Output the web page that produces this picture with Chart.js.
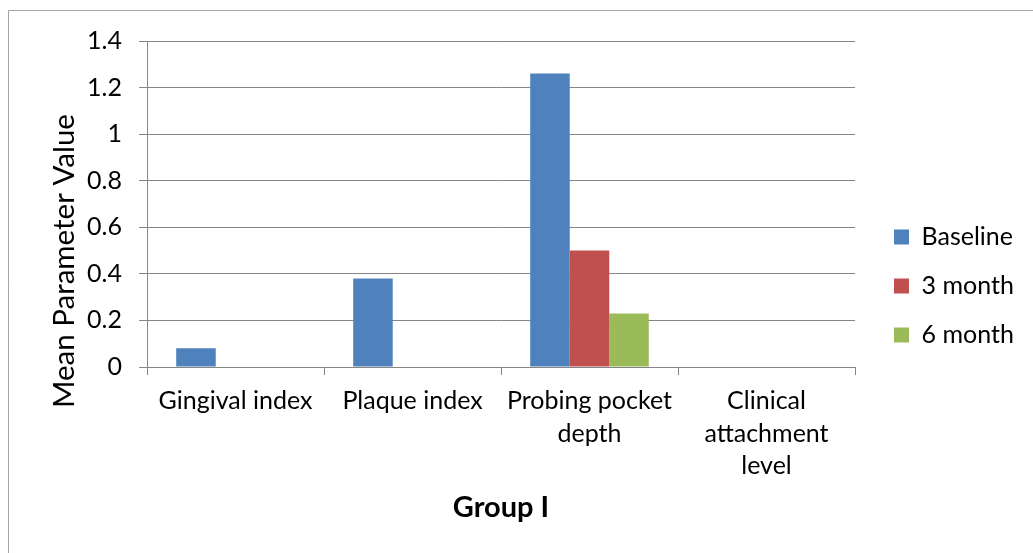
<!DOCTYPE html>
<html>
<head>
<meta charset="utf-8">
<script src="https://cdn.jsdelivr.net/npm/chart.js@4.4.1/dist/chart.umd.min.js"></script>
<style>
  html, body { margin: 0; padding: 0; background: #fff; }
  #wrap { width: 1033px; height: 553px; }
</style>
</head>
<body>
<div id="wrap"><canvas id="chart" width="1033" height="553"></canvas></div>
<script>
// Category labels (multi-line where the axis wraps them)
const categories = [
  ['Gingival index'],
  ['Plaque index'],
  ['Probing pocket', 'depth'],
  ['Clinical', 'attachment', 'level']
];

// Series names and mean values per category
const seriesNames = ['Baseline', '3 month', '6 month'];
const baselineValues = [0.08, 0.38, 1.26, 0];
const month3Values = [0, 0, 0.5, 0];
const month6Values = [0, 0, 0.23, 0];

// Value-axis ticks
const yTicks = [0, 0.2, 0.4, 0.6, 0.8, 1, 1.2, 1.4];

const yTitle = 'Mean Parameter Value';
const xTitle = 'Group I';

const FONT = 'Lato, "Open Sans", sans-serif';
const GRID = '#868686';

// Frame lines, white background and the rotated value-axis title
const framePlugin = {
  id: 'frame',
  beforeDraw(chart) {
    const ctx = chart.ctx;
    ctx.save();
    ctx.fillStyle = '#fff';
    ctx.fillRect(0, 0, chart.width, chart.height);
    ctx.strokeStyle = '#A5A5A5';
    ctx.lineWidth = 1;
    ctx.beginPath();
    ctx.moveTo(8.5, chart.height);
    ctx.lineTo(8.5, 10.5);
    ctx.lineTo(chart.width, 10.5);
    ctx.stroke();
    ctx.restore();
  },
  afterDraw(chart) {
    const ctx = chart.ctx;
    ctx.save();
    ctx.translate(64, 261);
    ctx.rotate(-Math.PI / 2);
    ctx.font = '29.5px ' + FONT;
    ctx.fillStyle = '#000';
    ctx.textAlign = 'center';
    ctx.textBaseline = 'middle';
    ctx.fillText(yTitle, 0, 0);
    ctx.restore();
  }
};

// Reserve a fixed band for the legend on the right and nudge its items
const legendPlacement = {
  id: 'legendPlacement',
  afterInit(chart) {
    const lg = chart.legend;
    if (!lg) return;
    const fit = lg.fit;
    lg.fit = function () {
      fit.call(this);
      this.width = 178;
    };
  },
  afterLayout(chart) {
    const lg = chart.legend;
    if (!lg) return;
    lg.left += 15; lg.right += 15;
    lg.top -= 11; lg.bottom -= 11;
  }
};

Chart.defaults.color = '#000';
Chart.defaults.font.family = FONT;

new Chart(document.getElementById('chart'), {
  type: 'bar',
  data: {
    labels: categories,
    datasets: [
      { label: seriesNames[0], data: baselineValues, backgroundColor: '#4F81BD', borderWidth: 0 },
      { label: seriesNames[1], data: month3Values, backgroundColor: '#C0504D', borderWidth: 0 },
      { label: seriesNames[2], data: month6Values, backgroundColor: '#9BBB59', borderWidth: 0 }
    ]
  },
  options: {
    responsive: false,
    animation: false,
    events: [],
    layout: { padding: { left: 9, top: 41, right: 0, bottom: 0 } },
    datasets: { bar: { categoryPercentage: 0.67, barPercentage: 1.0 } },
    scales: {
      x: {
        grid: { display: true, drawOnChartArea: false, drawTicks: true, tickLength: 8, color: GRID, lineWidth: 1, offset: true },
        border: { display: true, color: GRID, width: 1 },
        ticks: { font: { size: 25, lineHeight: '32.5px' }, padding: 10, maxRotation: 0, autoSkip: false, color: '#000' },
        title: { display: true, text: xTitle, font: { size: 29, weight: 'bold' }, padding: { top: 0, bottom: 27.6 }, color: '#000' },
        afterFit(scale) { scale.height = 186; }
      },
      y: {
        min: 0,
        max: 1.4,
        grid: { color: GRID, lineWidth: 1, drawTicks: true, tickLength: 8 },
        border: { display: true, color: GRID, width: 1 },
        ticks: { font: { size: 25 }, padding: 17, color: '#000', callback: (v) => String(v) },
        afterBuildTicks(scale) { scale.ticks = yTicks.map(v => ({ value: v })); },
        afterFit(scale) { scale.width = 138; }
      }
    },
    plugins: {
      legend: {
        display: true,
        position: 'right',
        align: 'center',
        labels: { boxWidth: 15, boxHeight: 15, padding: 24, font: { size: 25 }, color: '#000' }
      },
      tooltip: { enabled: false },
      title: { display: false }
    }
  },
  plugins: [framePlugin, legendPlacement]
});
</script>
</body>
</html>
